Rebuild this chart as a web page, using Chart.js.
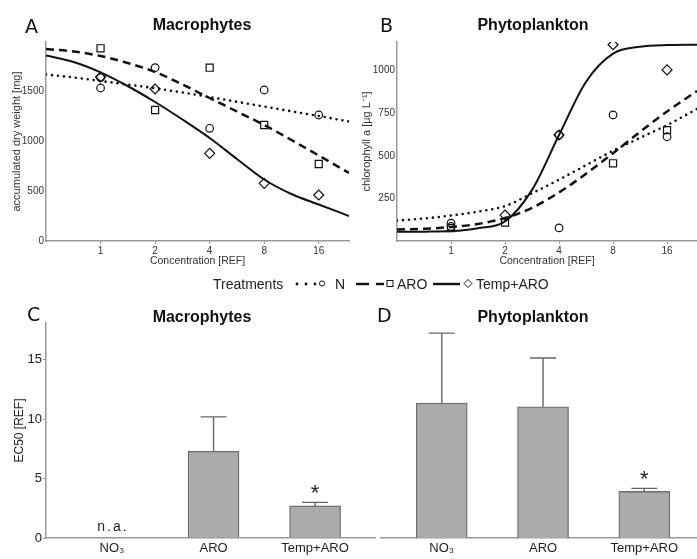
<!DOCTYPE html>
<html>
<head>
<meta charset="utf-8">
<script src="https://cdn.jsdelivr.net/npm/chart.js@4.4.1/dist/chart.umd.min.js"></script>
<style>
  html, body { margin: 0; padding: 0; background: #fff; }
  #page { position: relative; width: 697px; height: 559px; overflow: hidden; }
  .panel { position: absolute; }
  #overlay { position: absolute; left: 0; top: 0; pointer-events: none; }
  #overlay .ttl { font: bold 16px 'Liberation Sans', Arial, sans-serif; fill: #111; }
  #overlay .let { font: 19px 'DejaVu Sans', 'Liberation Sans', sans-serif; fill: #111; }
  #overlay .leg { font: 14px 'Liberation Sans', Arial, sans-serif; fill: #222; }
</style>
</head>
<body>
<div id="page">
  <div class="panel" style="left:0;top:0;width:350px;height:270px"><canvas id="chartA"></canvas></div>
  <div class="panel" style="left:350px;top:0;width:347px;height:270px"><canvas id="chartB"></canvas></div>
  <div class="panel" style="left:0;top:290px;width:377px;height:269px"><canvas id="chartC"></canvas></div>
  <div class="panel" style="left:365px;top:290px;width:332px;height:269px"><canvas id="chartD"></canvas></div>

  <svg id="overlay" width="697" height="559">
    <text class="let" x="25" y="33">A</text>
    <text class="let" x="380" y="32">B</text>
    <text class="let" x="27" y="321">C</text>
    <text class="let" x="377" y="322">D</text>
    <text class="ttl" x="202" y="30" text-anchor="middle">Macrophytes</text>
    <text class="ttl" x="533" y="30" text-anchor="middle">Phytoplankton</text>
    <text class="ttl" x="202" y="322" text-anchor="middle">Macrophytes</text>
    <text class="ttl" x="533" y="322" text-anchor="middle">Phytoplankton</text>

    <!-- shared legend -->
    <text class="leg" x="213" y="289">Treatments</text>
    <g fill="#111">
      <circle cx="297" cy="284" r="1.4"/><circle cx="306" cy="284" r="1.4"/><circle cx="315" cy="284" r="1.4"/>
    </g>
    <circle cx="322" cy="283.5" r="2.6" fill="none" stroke="#111" stroke-width="1"/>
    <text class="leg" x="335" y="289">N</text>
    <g stroke="#111" stroke-width="2.4">
      <line x1="356" y1="284" x2="369" y2="284"/><line x1="376" y1="284" x2="384" y2="284"/>
      <line x1="433" y1="284" x2="460" y2="284"/>
    </g>
    <rect x="387" y="280.5" width="6" height="6" fill="none" stroke="#111" stroke-width="1"/>
    <text class="leg" x="397" y="289">ARO</text>
    <path d="M468 279.5 L472 283.5 L468 287.5 L464 283.5 Z" fill="none" stroke="#111" stroke-width="1"/>
    <text class="leg" x="476" y="289">Temp+ARO</text>
  </svg>
</div>

<script>
// concentration levels (x ticks) and x positions where the fitted curves were read
const concTicks = [1, 2, 4, 8, 16];
const fitX = [0.5, 0.71, 1, 1.41, 2, 2.83, 4, 5.66, 8, 11.3, 16, 23.5];

// A: macrophytes, accumulated dry weight [mg]
const macroN_x = [1, 1, 2, 4, 8, 16];
const macroN_y = [1633, 1530, 1733, 1127, 1510, 1260];
const macroARO_x = [1, 2, 4, 8, 16];
const macroARO_y = [1927, 1310, 1733, 1160, 770];
const macroTemp_x = [1, 2, 4, 8, 16];
const macroTemp_y = [1640, 1520, 877, 577, 460];
const macroFitN = [1665, 1635, 1600, 1565, 1527, 1485, 1440, 1392, 1345, 1297, 1250, 1195];
const macroFitARO = [1920, 1895, 1850, 1780, 1690, 1565, 1430, 1295, 1160, 1010, 855, 680];
const macroFitTemp = [1855, 1790, 1687, 1550, 1390, 1215, 1030, 820, 615, 470, 365, 250];
const macroYTicks = [0, 500, 1000, 1500];

// B: phytoplankton, chlorophyll a
const phytoN_x = [1, 1, 4, 4, 8, 16];
const phytoN_y = [105, 85, 622, 77, 740, 612];
const phytoARO_x = [1, 2, 8, 16];
const phytoARO_y = [75, 108, 456, 651];
const phytoTemp_x = [2, 4, 8, 16];
const phytoTemp_y = [152, 622, 1152, 1004];
const phytoFitN = [120, 132, 150, 172, 205, 280, 360, 445, 530, 605, 680, 775];
const phytoFitARO = [68, 72, 82, 100, 135, 195, 285, 395, 515, 640, 760, 880];
const phytoFitTemp = [54, 55, 58, 75, 115, 300, 622, 935, 1100, 1140, 1150, 1152];
const phytoYTicks = [250, 500, 750, 1000];

// C / D: EC50 [REF] (mean + SD)
const ec50Labels = ['NO\u2083', 'ARO', 'Temp+ARO'];
const macroEC50 = [null, 7.3, 2.7];
const macroEC50Sd = [null, 2.9, 0.3];
const phytoEC50 = [11.35, 11.05, 3.92];
const phytoEC50Sd = [5.9, 4.1, 0.26];
const ec50Signif = ['', '', '*'];
const ec50YTicks = [0, 5, 10, 15];

const SANS = "'Liberation Sans', Arial, sans-serif";
Chart.defaults.animation = false;
Chart.defaults.font.family = SANS;
Chart.defaults.color = '#333';

function pts(xs, ys) {
  return xs.map((x, i) => ({ x: x, y: ys[i] }));
}

function curve(ys, dash, width, cap) {
  return {
    data: pts(fitX, ys), showLine: true, pointRadius: 0,
    borderColor: '#111', borderWidth: width, borderDash: dash, borderCapStyle: cap,
    cubicInterpolationMode: 'monotone'
  };
}

function marks(xs, ys, style, r) {
  return {
    data: pts(xs, ys), showLine: false, pointStyle: style, pointRadius: r,
    pointBorderColor: '#111', pointBackgroundColor: 'rgba(0,0,0,0)', pointBorderWidth: 1.2
  };
}

function curvePanel(id, o) {
  return new Chart(document.getElementById(id), {
    type: 'scatter',
    data: {
      datasets: [
        curve(o.fitN, [0, 6], 2.6, 'round'),
        curve(o.fitARO, [8, 5], 2.5, 'butt'),
        curve(o.fitTemp, [], 2, 'butt'),
        marks(o.nx, o.ny, 'circle', 3.8),
        marks(o.ax, o.ay, 'rect', 5),
        marks(o.tx, o.ty, 'rectRot', 5)
      ]
    },
    options: {
      responsive: true, maintainAspectRatio: false,
      layout: { autoPadding: false, padding: { top: 42, right: o.padRight, left: 0, bottom: 0 } },
      plugins: { legend: { display: false }, tooltip: { enabled: false } },
      scales: {
        x: {
          type: 'logarithmic', min: 0.5, max: 23.5,
          afterBuildTicks: s => { s.ticks = concTicks.map(v => ({ value: v })); },
          afterFit: s => { s.height = 29; s.paddingLeft = 0; s.paddingRight = 0; },
          ticks: { callback: v => String(v), font: { size: 10 }, padding: 1, maxRotation: 0 },
          grid: { display: true, drawOnChartArea: false, drawTicks: true, tickLength: 3, color: '#999' },
          border: { display: true, color: '#999', width: 1.5 },
          title: { display: true, text: 'Concentration [REF]', font: { size: 10.5 }, padding: { top: 0, bottom: 3 } }
        },
        y: {
          min: 0, max: o.ymax,
          afterBuildTicks: s => { s.ticks = o.yticks.map(v => ({ value: v })); },
          afterFit: s => { s.width = o.yw; s.paddingTop = 0; s.paddingBottom = 0; },
          ticks: { callback: v => String(v), font: { size: 10 }, padding: 2 },
          grid: { display: false, drawTicks: false },
          border: { display: true, color: '#999', width: 1.5 },
          title: { display: true, text: o.ytitle, font: { size: 11 }, padding: { top: 10, bottom: 0 } }
        }
      }
    }
  });
}

curvePanel('chartA', {
  fitN: macroFitN, fitARO: macroFitARO, fitTemp: macroFitTemp,
  nx: macroN_x, ny: macroN_y, ax: macroARO_x, ay: macroARO_y, tx: macroTemp_x, ty: macroTemp_y,
  ymax: 1990, yticks: macroYTicks, yw: 46, padRight: 1, ytitle: 'accumulated dry weight [mg]'
});

curvePanel('chartB', {
  fitN: phytoFitN, fitARO: phytoFitARO, fitTemp: phytoFitTemp,
  nx: phytoN_x, ny: phytoN_y, ax: phytoARO_x, ay: phytoARO_y, tx: phytoTemp_x, ty: phytoTemp_y,
  ymax: 1168, yticks: phytoYTicks, yw: 47, padRight: 0, ytitle: 'chlorophyll a [\u00b5g L\u207b\u00b9]'
});

// error bars, significance stars and "n.a." on top of the bars
const ec50Marks = {
  id: 'ec50Marks',
  afterDatasetsDraw(chart, args, opts) {
    const { ctx, scales: { x, y } } = chart;
    ctx.save();
    ctx.textAlign = 'center';
    ctx.fillStyle = '#222';
    opts.means.forEach((m, i) => {
      const px = x.getPixelForValue(i);
      if (m == null) {
        ctx.font = '14px ' + SANS;
        ctx.letterSpacing = '2px';
        ctx.fillText('n.a.', px + 1, y.getPixelForValue(0) - 7);
        ctx.letterSpacing = '0px';
        return;
      }
      const base = y.getPixelForValue(m);
      const top = y.getPixelForValue(m + opts.sd[i]);
      ctx.strokeStyle = '#666';
      ctx.lineWidth = 1.4;
      ctx.beginPath();
      ctx.moveTo(px, base); ctx.lineTo(px, top);
      ctx.moveTo(px - 13, top); ctx.lineTo(px + 13, top);
      ctx.stroke();
      if (opts.signif[i]) {
        ctx.font = '22px ' + SANS;
        ctx.fillText(opts.signif[i], px, top - 2);
      }
    });
    ctx.restore();
  }
};

function barPanel(id, o) {
  return new Chart(document.getElementById(id), {
    type: 'bar',
    data: {
      datasets: [{
        data: o.means.map((v, i) => ({ x: i, y: v })),
        backgroundColor: '#ababab', borderColor: '#6e6e6e', borderWidth: 1.3,
        barThickness: 51, borderSkipped: 'bottom'
      }]
    },
    options: {
      responsive: true, maintainAspectRatio: false,
      layout: { autoPadding: false, padding: { top: 33, right: o.padRight, left: o.padLeft, bottom: 0 } },
      plugins: {
        legend: { display: false }, tooltip: { enabled: false },
        ec50Marks: { means: o.means, sd: o.sd, signif: ec50Signif }
      },
      scales: {
        x: {
          type: 'linear', offset: false, min: o.xmin, max: o.xmax,
          afterBuildTicks: s => { s.ticks = ec50Labels.map((l, i) => ({ value: i })); },
          afterFit: s => { s.height = 21; s.paddingLeft = 0; s.paddingRight = 0; },
          ticks: { callback: (v) => ec50Labels[v], font: { size: 13 }, color: '#222', padding: 3, maxRotation: 0 },
          grid: { display: false, drawTicks: false },
          border: { display: true, color: '#999', width: 1.5 }
        },
        y: {
          display: o.showY, min: 0, max: 18.1,
          afterBuildTicks: s => { s.ticks = ec50YTicks.map(v => ({ value: v })); },
          afterFit: s => { s.width = o.showY ? 46 : 0; s.paddingTop = 0; s.paddingBottom = 0; },
          ticks: { font: { size: 13 }, color: '#222', padding: 1 },
          grid: { display: true, drawOnChartArea: false, drawTicks: true, tickLength: 3, color: '#999' },
          border: { display: true, color: '#999', width: 1.5 },
          title: { display: true, text: 'EC50 [REF]', font: { size: 12 }, color: '#222', padding: { top: 12, bottom: 0 } }
        }
      }
    },
    plugins: [ec50Marks]
  });
}

barPanel('chartC', { means: macroEC50, sd: macroEC50Sd, xmin: -0.65, xmax: 2.59, padLeft: 0, padRight: 2, showY: true });
barPanel('chartD', { means: phytoEC50, sd: phytoEC50Sd, xmin: -0.6, xmax: 2.52, padLeft: 16, padRight: 0, showY: false });
</script>
</body>
</html>
